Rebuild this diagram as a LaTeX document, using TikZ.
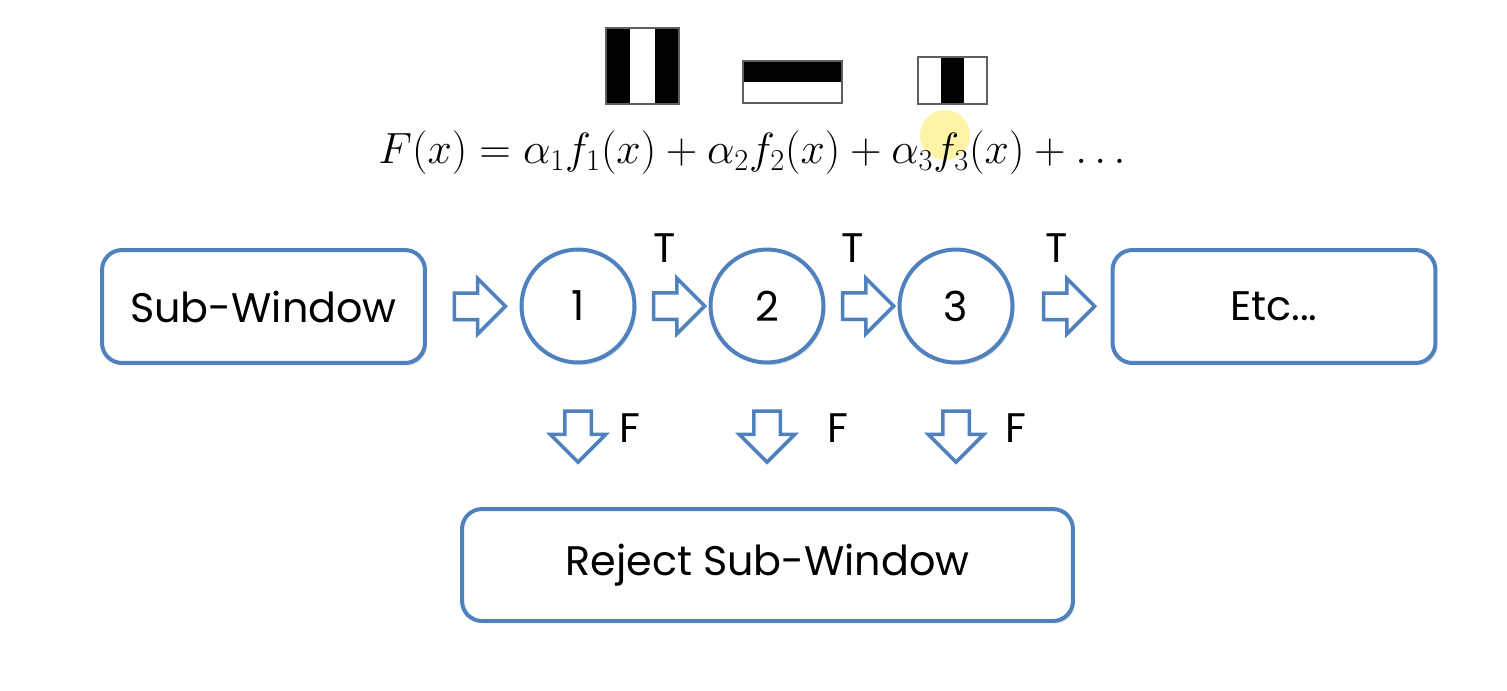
\documentclass[tikz,border=0pt]{standalone}
\usepackage{fontspec}
\setmainfont{Poppins}
\usetikzlibrary{shapes.arrows,shadows,calc}

\definecolor{boxblue}{RGB}{79,129,189}
\definecolor{edgegray}{RGB}{95,95,95}

\tikzset{
  box/.style={draw=boxblue, line width=0.08cm, rounded corners=0.4cm, fill=white,
    minimum height=2.26cm, drop shadow={opacity=0.25, shadow xshift=0.04cm, shadow yshift=-0.05cm},
    font=\fontsize{23.5}{28}\selectfont},
  stage/.style={circle, draw=boxblue, line width=0.08cm, fill=white, minimum size=2.26cm,
    inner sep=0pt, drop shadow={opacity=0.25, shadow xshift=0.04cm, shadow yshift=-0.05cm},
    font=\fontsize{23.5}{28}\selectfont},
  blockarrow/.style={single arrow, draw=boxblue, line width=0.07cm, fill=white,
    inner sep=0.23cm, minimum height=1.02cm, single arrow head extend=0.29cm,
    drop shadow={opacity=0.2, shadow xshift=0.03cm, shadow yshift=-0.04cm}},
  lbl/.style={font=\fontsize{23.5}{28}\selectfont, inner sep=0pt},
  haar/.style={draw=edgegray, line width=0.03cm}
}

\begin{document}
\begin{tikzpicture}[x=0.02cm, y=-0.02cm]
  \useasboundingbox (0,0) rectangle (1507,690);

  % haar-like features
  \fill (606,28) rectangle (630,104);
  \fill (655,28) rectangle (679,104);
  \draw[haar] (606,28) rectangle (679,104);
  \fill (743,61) rectangle (842,82);
  \draw[haar] (743,61) rectangle (842,103);
  \fill (941,57) rectangle (964,104);
  \draw[haar] (918,57) rectangle (987,104);

  % cursor highlight
  \fill[yellow!80!orange, opacity=0.35] (945,135) circle (25);

  \node[inner sep=0pt] (fx) at (752,153)
    {\fontsize{26}{30}\selectfont $F(x) = \alpha_1 f_1(x) + \alpha_2 f_2(x) + \alpha_3 f_3(x) + \ldots$};

  % cascade
  \node[box, minimum width=6.46cm] (sub) at (263.5,306.5) {Sub-Window};
  \node[stage] (c1) at (578,306) {1};
  \node[stage] (c2) at (767,306) {2};
  \node[stage] (c3) at (956,306) {3};
  \node[box, minimum width=6.46cm] (etc) at (1274,306.5) {Etc...};
  \node[box, minimum width=12.22cm, minimum height=2.24cm] (rej) at (767.5,565) {Reject Sub-Window};

  \node[blockarrow] (a1) at ($(sub.east)!0.5!(c1.west)$) {};
  \node[blockarrow] (a2) at ($(c1.east)!0.5!(c2.west)$) {};
  \node[blockarrow] (a3) at ($(c2.east)!0.5!(c3.west)$) {};
  \node[blockarrow] (a4) at ($(c3.east)!0.5!(etc.west)$) {};

  \node[lbl] (t2) at (665,248) {T};
  \node[lbl] (t3) at (853,248) {T};
  \node[lbl] (t4) at (1057,248) {T};

  \coordinate (drow) at (0,430);
  \foreach \c in {c1,c2,c3}
    \node[blockarrow, shape border rotate=270] (d\c) at (\c |- drow) {};

  \node[lbl] (f1) at (630,428) {F};
  \node[lbl] (f2) at (838,428) {F};
  \node[lbl] (f3) at (1016,428) {F};
\end{tikzpicture}
\end{document}
